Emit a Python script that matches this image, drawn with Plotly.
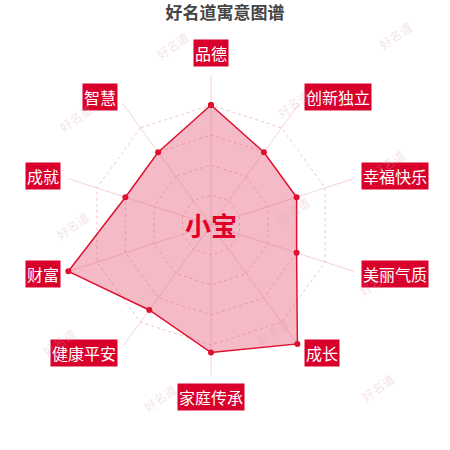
import math
import plotly.graph_objects as go

# 寓意维度（从顶部顺时针）
categories = ['品德', '创新独立', '幸福快乐', '美丽气质', '成长',
              '家庭传承', '健康平安', '财富', '成就', '智慧']
scores = [80, 60, 60, 60, 98, 85, 70, 100, 60, 60]
name = '小宝'
title = '好名道寓意图谱'
watermark = '好名道'

W = H = 450
cx, cy, R = 211, 225, 150
red = '#d9002b'
font_cjk = 'Noto Sans CJK SC, Noto Sans, sans-serif'

fig = go.Figure()
fig.add_trace(go.Scatterpolar(
    r=scores + scores[:1],
    theta=categories + categories[:1],
    mode='lines+markers',
    fill='toself',
    fillcolor='rgba(226,75,108,0.38)',
    line=dict(color='#e0102f', width=1.5),
    marker=dict(color='#e0102f', size=6),
    hoverinfo='skip',
    showlegend=False,
))

# 维度标签：红底白字
annotations = []
n = len(categories)
for i, cat in enumerate(categories):
    a = math.radians(i * 360 / n)
    s, c = math.sin(a), math.cos(a)
    px = cx + (R + 8) * s
    py = cy - (R + 8) * c
    if abs(s) < 0.1:
        xa = 'center'
        ya = 'bottom' if c > 0 else 'top'
    else:
        xa = 'left' if s > 0 else 'right'
        ya = 'middle'
    annotations.append(dict(
        x=px / W, y=1 - py / H, xref='paper', yref='paper',
        text=cat, showarrow=False, xanchor=xa, yanchor=ya,
        bgcolor=red, borderpad=1,
        font=dict(family=font_cjk, size=16, color='white'),
    ))

# 中心姓名
annotations.append(dict(
    x=cx / W, y=1 - (cy - 1) / H, xref='paper', yref='paper',
    text='<b>' + name + '</b>', showarrow=False,
    font=dict(family=font_cjk, size=26, color='#e0002a'),
))

# 水印
wm_pos = [(172, 25), (417, 15), (53, 97), (293, 83), (410, 143), (50, 225),
          (293, 210), (397, 282), (37, 362), (273, 352), (160, 418), (400, 408)]
for x, y in wm_pos:
    annotations.append(dict(
        x=x / W, y=1 - y / H, xref='paper', yref='paper',
        text=watermark, showarrow=False, textangle=-35,
        font=dict(family=font_cjk, size=12, color='rgba(215,160,165,0.3)'),
    ))

fig.update_layout(
    width=W, height=H,
    margin=dict(l=0, r=0, t=0, b=0),
    paper_bgcolor='white',
    title=dict(text='<b>' + title + '</b>', x=225 / W, xanchor='center',
               y=1 - 13 / H, yanchor='middle',
               font=dict(family=font_cjk, size=17, color='#444444')),
    annotations=annotations,
    polar=dict(
        domain=dict(x=[(cx - R) / W, (cx + R) / W], y=[1 - (cy + R) / H, 1 - (cy - R) / H]),
        bgcolor='rgba(0,0,0,0)',
        gridshape='linear',
        radialaxis=dict(range=[0, 100], tickvals=[20, 40, 60, 80, 100],
                        showticklabels=False, ticks='', showline=False,
                        gridcolor='#f0c4cc', griddash='dot', gridwidth=1),
        angularaxis=dict(rotation=90, direction='clockwise',
                         showticklabels=False, ticks='',
                         showline=False,
                         gridcolor='#f4d4da', gridwidth=1),
    ),
)

fig.write_html('out.html', config={'displayModeBar': False},
               post_script="document.body.style.margin='0';")
